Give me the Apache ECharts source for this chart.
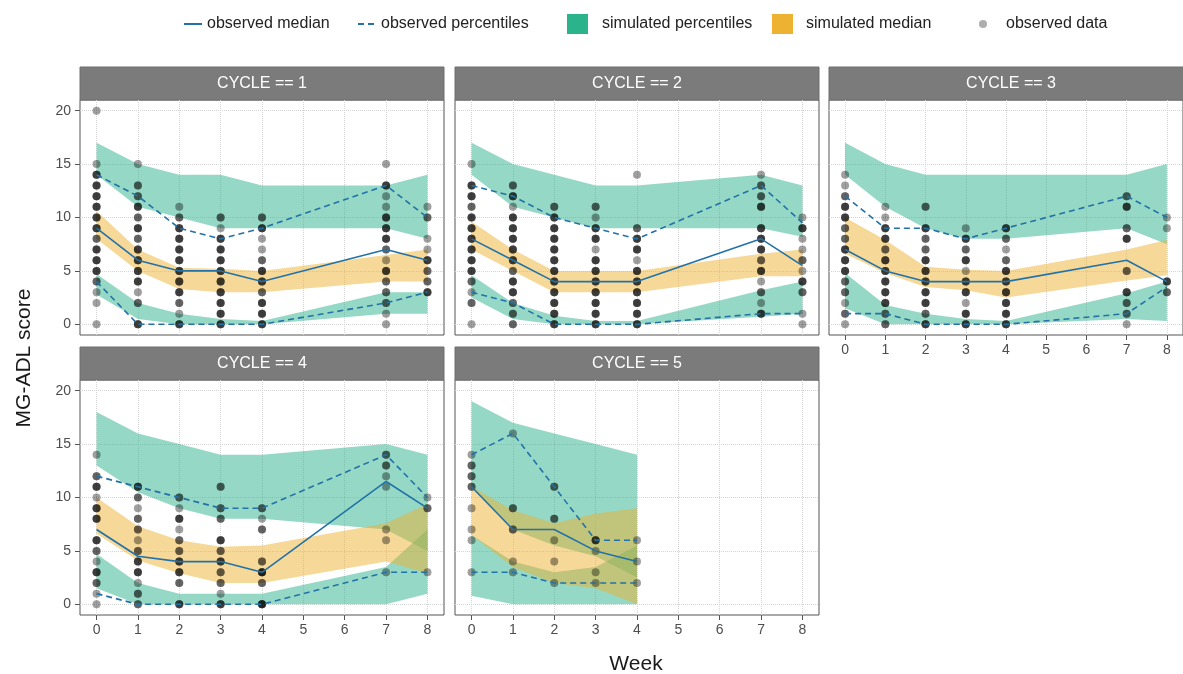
<!DOCTYPE html>
<html><head><meta charset="utf-8">
<script src="https://cdn.jsdelivr.net/npm/echarts@6/dist/echarts.min.js"></script>
<style>html,body{margin:0;padding:0;background:#fff}#c{width:1183px;height:674px}</style>
</head><body><div id="c"></div>
<script>
// ---------- data ----------
const weeks = [0, 1, 2, 3, 4, 7, 8];
const weeksC5 = [0, 1, 2, 3, 4];
const xTicks = [0, 1, 2, 3, 4, 5, 6, 7, 8];
const yTicks = [0, 5, 10, 15, 20];
const panelTitles = ['CYCLE == 1', 'CYCLE == 2', 'CYCLE == 3', 'CYCLE == 4', 'CYCLE == 5'];

// observed median / percentiles
const obsMed1 = [9, 6, 5, 5, 4, 7, 6];
const obsHi1  = [14, 12, 9, 8, 9, 13, 10];
const obsLo1  = [4, 0, 0, 0, 0, 2, 3];
const obsMed2 = [8, 6, 4, 4, 4, 8, 5.5];
const obsHi2  = [13, 12, 10, 9, 8, 13, 9.5];
const obsLo2  = [3, 2, 0, 0, 0, 1, 1];
const obsMed3 = [7, 5, 4, 4, 4, 6, 4];
const obsHi3  = [12, 9, 9, 8, 9, 12, 10];
const obsLo3  = [1, 1, 0, 0, 0, 1, 3.5];
const obsMed4 = [7, 4.5, 4, 4, 3, 11.5, 9];
const obsHi4  = [12, 11, 10, 9, 9, 14, 10];
const obsLo4  = [1, 0, 0, 0, 0, 3, 3];
const obsMed5 = [11, 7, 7, 5, 4];
const obsHi5  = [14, 16, 11, 6, 6];
const obsLo5  = [3, 3, 2, 2, 2];

// simulated percentile bands (upper band top/bottom, lower band top/bottom) and median band
const simUpTop1 = [17, 15, 14, 14, 13, 13, 14];
const simUpBot1 = [14, 11, 10, 9, 9, 9, 8];
const simLoTop1 = [4.7, 2, 1, 0.5, 0.3, 3, 3];
const simLoBot1 = [2.8, 0.5, 0, 0, 0, 1, 1];
const simMdTop1 = [10.6, 7, 5.3, 5.2, 5, 6.5, 7];
const simMdBot1 = [8, 5, 3.3, 3, 3, 4, 4];

const simUpTop2 = [17, 15, 14, 13, 13, 14, 13];
const simUpBot2 = [14, 11, 10, 9, 9, 9, 8.2];
const simLoTop2 = [4.6, 2, 0.8, 0.3, 0.3, 3.2, 4];
const simLoBot2 = [2.5, 0.5, 0, 0, 0, 0.7, 1];
const simMdTop2 = [9.6, 7, 5, 5, 5, 6.6, 7];
const simMdBot2 = [7, 5, 3, 3, 3, 4.5, 4.5];

const simUpTop3 = [17, 15, 14, 14, 14, 14, 15];
const simUpBot3 = [14, 11, 9, 8, 8, 9, 7.5];
const simLoTop3 = [4.8, 1.8, 1, 0.5, 0.3, 2.9, 4];
const simLoBot3 = [1.5, 0, 0, 0, 0, 0.5, 0.3];
const simMdTop3 = [10, 7.9, 5.4, 5.1, 5, 7, 7.9];
const simMdBot3 = [6.6, 4.8, 3.5, 3.2, 2.5, 4.1, 4.6];

const simUpTop4 = [18, 16, 15, 14, 14, 15, 14];
const simUpBot4 = [13, 10.5, 9, 8, 8, 7, 5];
const simLoTop4 = [4.7, 2, 1, 1, 1, 3.5, 7];
const simLoBot4 = [1.5, 0, 0, 0, 0, 0, 1];
const simMdTop4 = [10, 7.3, 6, 5.4, 5.5, 7.6, 9.4];
const simMdBot4 = [6.6, 4.1, 2.9, 2, 2, 4, 2.9];

const simUpTop5 = [19, 17, 16, 15, 14];
const simUpBot5 = [11, 7, 5.5, 4.5, 2.5];
const simLoTop5 = [6.5, 4, 3, 3.5, 5.5];
const simLoBot5 = [0.8, 0, 0, 0, 0];
const simMdTop5 = [11, 8.8, 7.6, 8.5, 9];
const simMdBot5 = [6.5, 3.5, 2, 1.5, 0];

// observed data: [week, score, number of overlapping observations]
const pts1 = [
 [0,20,1],[0,15,1],[0,14,3],[0,13,3],[0,12,3],[0,11,3],[0,10,3],[0,9,3],[0,8,2],[0,7,3],[0,6,3],[0,5,3],[0,4,2],[0,3,1],[0,2,1],[0,0,1],
 [1,15,1],[1,13,2],[1,12,2],[1,11,3],[1,10,2],[1,9,3],[1,8,2],[1,7,3],[1,6,3],[1,5,3],[1,4,3],[1,3,1],[1,2,2],[1,0,3],
 [2,11,1],[2,10,2],[2,9,3],[2,8,3],[2,7,3],[2,6,3],[2,5,3],[2,4,3],[2,3,3],[2,2,2],[2,1,1],[2,0,3],
 [3,10,2],[3,9,1],[3,8,3],[3,7,3],[3,6,3],[3,5,3],[3,4,3],[3,3,3],[3,2,3],[3,1,3],[3,0,3],
 [4,10,2],[4,9,3],[4,8,1],[4,7,1],[4,6,2],[4,5,3],[4,4,3],[4,3,2],[4,2,3],[4,1,3],[4,0,3],
 [7,15,1],[7,13,3],[7,12,1],[7,11,1],[7,10,3],[7,9,3],[7,8,3],[7,7,2],[7,6,1],[7,5,3],[7,4,2],[7,3,2],[7,2,2],[7,1,1],[7,0,1],
 [8,11,1],[8,10,2],[8,8,1],[8,7,1],[8,6,3],[8,5,2],[8,4,2],[8,3,3]
];
const pts2 = [
 [0,15,1],[0,13,3],[0,12,3],[0,11,2],[0,10,3],[0,9,3],[0,8,3],[0,7,3],[0,6,3],[0,5,3],[0,4,2],[0,3,1],[0,2,2],[0,0,1],
 [1,13,2],[1,12,3],[1,11,1],[1,10,3],[1,9,3],[1,8,3],[1,7,3],[1,6,3],[1,5,2],[1,4,3],[1,3,3],[1,2,2],[1,1,2],[1,0,2],
 [2,11,2],[2,10,3],[2,9,3],[2,8,3],[2,7,3],[2,6,3],[2,5,3],[2,4,3],[2,3,3],[2,2,3],[2,1,3],[2,0,3],
 [3,11,2],[3,10,1],[3,9,3],[3,8,3],[3,7,1],[3,6,3],[3,5,3],[3,4,3],[3,3,3],[3,2,3],[3,1,3],[3,0,3],
 [4,14,1],[4,9,2],[4,8,3],[4,7,3],[4,6,1],[4,5,3],[4,4,3],[4,3,3],[4,2,3],[4,1,3],[4,0,3],
 [7,14,1],[7,13,2],[7,12,2],[7,11,3],[7,9,3],[7,8,3],[7,7,3],[7,6,2],[7,5,3],[7,4,1],[7,3,2],[7,2,1],[7,1,3],
 [8,10,1],[8,9,3],[8,8,1],[8,7,1],[8,6,2],[8,5,1],[8,4,3],[8,3,2],[8,1,1],[8,0,1]
];
const pts3 = [
 [0,14,1],[0,13,1],[0,12,2],[0,11,3],[0,10,3],[0,9,2],[0,8,2],[0,7,3],[0,6,3],[0,5,3],[0,4,2],[0,3,2],[0,2,1],[0,1,2],[0,0,1],
 [1,11,1],[1,10,1],[1,9,3],[1,8,3],[1,7,2],[1,6,3],[1,5,3],[1,4,3],[1,3,3],[1,2,3],[1,1,2],[1,0,2],
 [2,11,2],[2,9,3],[2,8,2],[2,7,2],[2,6,3],[2,5,3],[2,4,3],[2,3,3],[2,2,3],[2,1,2],[2,0,3],
 [3,9,1],[3,8,3],[3,7,2],[3,6,3],[3,5,1],[3,4,3],[3,3,3],[3,2,1],[3,1,3],[3,0,3],
 [4,9,3],[4,8,2],[4,7,1],[4,6,2],[4,5,3],[4,4,3],[4,3,3],[4,2,3],[4,1,3],[4,0,3],
 [7,12,2],[7,11,3],[7,9,2],[7,8,3],[7,5,2],[7,3,3],[7,2,2],[7,1,2],[7,0,1],
 [8,10,1],[8,9,1],[8,4,3],[8,3,2]
];
const pts4 = [
 [0,14,1],[0,12,2],[0,11,3],[0,10,1],[0,9,3],[0,8,3],[0,6,3],[0,5,2],[0,4,1],[0,3,3],[0,2,2],[0,1,1],[0,0,1],
 [1,11,3],[1,10,2],[1,9,1],[1,8,2],[1,7,2],[1,6,1],[1,5,2],[1,4,3],[1,3,3],[1,2,1],[1,1,2],[1,0,2],
 [2,10,2],[2,9,1],[2,8,3],[2,7,1],[2,6,2],[2,5,2],[2,4,3],[2,3,3],[2,2,2],[2,0,3],
 [3,11,2],[3,9,2],[3,8,2],[3,6,3],[3,5,2],[3,4,3],[3,3,2],[3,2,2],[3,1,1],[3,0,3],
 [4,9,2],[4,8,1],[4,7,2],[4,4,2],[4,3,4],[4,2,2],[4,0,4],
 [7,14,2],[7,13,2],[7,12,1],[7,11,1],[7,7,1],[7,6,1],[7,3,1],
 [8,10,1],[8,9,2],[8,3,1]
];
const pts5 = [
 [0,14,1],[0,13,2],[0,12,2],[0,11,2],[0,9,1],[0,7,1],[0,6,1],[0,3,1],
 [1,16,1],[1,9,2],[1,7,2],[1,4,1],[1,3,1],
 [2,11,2],[2,8,2],[2,6,1],[2,4,1],[2,2,1],
 [3,6,3],[3,5,1],[3,3,1],[3,2,1],
 [4,6,1],[4,4,1],[4,2,1]
];

// ---------- styling ----------
const FONT = '"Liberation Sans", Arial, sans-serif';
const TEAL = '#2bb38c', TEAL_FILL = 'rgba(43,178,140,0.5)';
const GOLD = '#eeb232', GOLD_FILL = 'rgba(238,178,50,0.5)';
const BLUE = '#2272a8';
const PW = 364, PH = 235;
const pos = [
  {left: 80, top: 100}, {left: 455, top: 100}, {left: 829, top: 100},
  {left: 80, top: 380}, {left: 455, top: 380}
];
const showY = [true, false, false, true, false];
const showX = [false, false, true, true, true];

const panels = [
  {xs: weeks, med: obsMed1, hi: obsHi1, lo: obsLo1, ut: simUpTop1, ub: simUpBot1, lt: simLoTop1, lb: simLoBot1, mt: simMdTop1, mb: simMdBot1, pts: pts1},
  {xs: weeks, med: obsMed2, hi: obsHi2, lo: obsLo2, ut: simUpTop2, ub: simUpBot2, lt: simLoTop2, lb: simLoBot2, mt: simMdTop2, mb: simMdBot2, pts: pts2},
  {xs: weeks, med: obsMed3, hi: obsHi3, lo: obsLo3, ut: simUpTop3, ub: simUpBot3, lt: simLoTop3, lb: simLoBot3, mt: simMdTop3, mb: simMdBot3, pts: pts3},
  {xs: weeks, med: obsMed4, hi: obsHi4, lo: obsLo4, ut: simUpTop4, ub: simUpBot4, lt: simLoTop4, lb: simLoBot4, mt: simMdTop4, mb: simMdBot4, pts: pts4},
  {xs: weeksC5, med: obsMed5, hi: obsHi5, lo: obsLo5, ut: simUpTop5, ub: simUpBot5, lt: simLoTop5, lb: simLoBot5, mt: simMdTop5, mb: simMdBot5, pts: pts5}
];

function band(gi, xs, top, bot, fill, legendColor, name) {
  return {
    type: 'custom', name: name, xAxisIndex: gi, yAxisIndex: gi, clip: true, silent: true,
    itemStyle: {color: legendColor},
    data: xs.map((x, i) => [x, bot[i], top[i]]),
    encode: {x: 0, y: [1, 2]},
    renderItem: function (params, api) {
      if (params.dataIndex !== 0) return null;
      const p = [];
      for (let i = 0; i < xs.length; i++) p.push(api.coord([xs[i], top[i]]));
      for (let i = xs.length - 1; i >= 0; i--) p.push(api.coord([xs[i], bot[i]]));
      return {type: 'polygon', shape: {points: p}, style: {fill: fill}};
    }
  };
}
function line(gi, xs, ys, dashed, name) {
  return {
    type: 'line', name: name, xAxisIndex: gi, yAxisIndex: gi, silent: true,
    symbol: 'none', showSymbol: false, animation: false,
    data: xs.map((x, i) => [x, ys[i]]),
    lineStyle: {color: BLUE, width: 1.6, type: dashed ? [6, 4] : 'solid'},
    itemStyle: {color: BLUE}
  };
}

const grid = [], xAxis = [], yAxis = [], series = [], graphic = [];
panels.forEach((pn, gi) => {
  grid.push({left: pos[gi].left, top: pos[gi].top, width: PW, height: PH,
    show: true, borderColor: '#555', borderWidth: 1, backgroundColor: '#fff', containLabel: false});
  xAxis.push({type: 'value', gridIndex: gi, min: -0.4, max: 8.4, position: 'bottom',
    axisLine: {show: false, onZero: false},
    axisTick: {show: showX[gi], length: 5, lineStyle: {color: '#555'}, customValues: xTicks},
    axisLabel: {show: showX[gi], margin: 8, fontSize: 14, color: '#4d4d4d', fontFamily: FONT, customValues: xTicks},
    splitLine: {show: true, lineStyle: {color: '#d4d4d4', type: 'dotted', width: 1}}
  });
  yAxis.push({type: 'value', gridIndex: gi, min: -1, max: 21, position: 'left',
    axisLine: {show: false, onZero: false},
    axisTick: {show: showY[gi], length: 5, lineStyle: {color: '#555'}, customValues: yTicks},
    axisLabel: {show: showY[gi], margin: 9, fontSize: 14, color: '#4d4d4d', fontFamily: FONT, customValues: yTicks},
    splitLine: {show: true, lineStyle: {color: '#d4d4d4', type: 'dotted', width: 1}}
  });
  series.push(band(gi, pn.xs, pn.ut, pn.ub, TEAL_FILL, TEAL, 'simulated percentiles'));
  series.push(band(gi, pn.xs, pn.lt, pn.lb, TEAL_FILL, TEAL, 'simulated percentiles'));
  series.push(band(gi, pn.xs, pn.mt, pn.mb, GOLD_FILL, GOLD, 'simulated median'));
  const sc = [];
  pn.pts.forEach(p => { for (let k = 0; k < p[2]; k++) sc.push([p[0], p[1]]); });
  series.push({type: 'scatter', name: 'observed data', xAxisIndex: gi, yAxisIndex: gi, silent: true,
    symbolSize: 8, data: sc, itemStyle: {color: 'rgba(0,0,0,0.47)'}});
  series.push(line(gi, pn.xs, pn.hi, true, 'observed percentiles'));
  series.push(line(gi, pn.xs, pn.lo, true, 'observed percentiles'));
  series.push(line(gi, pn.xs, pn.med, false, 'observed median'));
  // facet strip
  graphic.push({type: 'rect', shape: {x: pos[gi].left, y: pos[gi].top - 33, width: PW, height: 33},
    style: {fill: '#7b7b7b', stroke: '#6e6e6e', lineWidth: 1}, silent: true});
  graphic.push({type: 'text', x: pos[gi].left + PW / 2, y: pos[gi].top - 16.5,
    style: {text: panelTitles[gi], fill: '#fff', font: '16px ' + FONT, align: 'center', verticalAlign: 'middle'}, silent: true});
});
graphic.push({type: 'text', x: 636, y: 664, style: {text: 'Week', fill: '#1a1a1a', font: '21px ' + FONT, align: 'center', verticalAlign: 'middle'}, silent: true});
graphic.push({type: 'text', x: 24, y: 358, rotation: Math.PI / 2,
  style: {text: 'MG-ADL score', fill: '#1a1a1a', font: '21px ' + FONT, align: 'center', verticalAlign: 'middle'}, silent: true});

const legTxt = {fontSize: 16, color: '#222', fontFamily: FONT};
const hideSym = {opacity: 0};
const legend = [
  {data: [{name: 'observed median', itemStyle: hideSym}], left: 183, top: 16, padding: 0, itemWidth: 18, itemHeight: 14,
    selectedMode: false, textStyle: legTxt},
  {data: [{name: 'observed percentiles', itemStyle: hideSym}], left: 357, top: 16, padding: 0, itemWidth: 18, itemHeight: 14,
    selectedMode: false, textStyle: legTxt},
  {data: [{name: 'simulated percentiles', icon: 'rect', itemStyle: {color: TEAL}}], left: 567, top: 14, padding: 0, itemWidth: 21, itemHeight: 20,
    selectedMode: false, textStyle: Object.assign({padding: [0, 0, 0, 9]}, legTxt)},
  {data: [{name: 'simulated median', icon: 'rect', itemStyle: {color: GOLD}}], left: 772, top: 14, padding: 0, itemWidth: 21, itemHeight: 20,
    selectedMode: false, textStyle: Object.assign({padding: [0, 0, 0, 8]}, legTxt)},
  {data: [{name: 'observed data', icon: 'circle', itemStyle: {color: '#9a9a9a'}}], left: 979, top: 16, padding: 0, itemWidth: 8, itemHeight: 8,
    selectedMode: false, textStyle: Object.assign({padding: [0, 0, 0, 14]}, legTxt)}
];

const chart = echarts.init(document.getElementById('c'), null, {renderer: 'canvas'});
chart.setOption({animation: false, backgroundColor: '#fff', grid, xAxis, yAxis, series, legend, graphic});
</script></body></html>
